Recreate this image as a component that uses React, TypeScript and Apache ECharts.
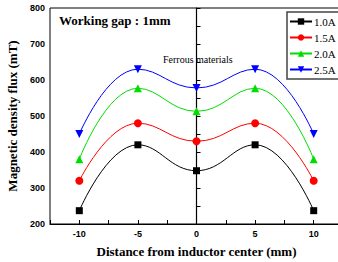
import React, { useEffect, useRef } from "react";
import * as echarts from "echarts";

const xValues = [-10, -5, 0, 5, 10];
const seriesNames = ["1.0A", "1.5A", "2.0A", "2.5A"];
const s10 = [237, 420, 348, 420, 237];
const s15 = [320, 480, 430, 480, 320];
const s20 = [380, 577, 513, 577, 380];
const s25 = [450, 630, 578, 630, 450];
const colors = ["#000000", "#ff0000", "#00dd00", "#0000ff"];
const symbols = ["rect", "circle", "triangle", "triangle"];
const rotations = [0, 0, 0, 180];

export default function App() {
  const ref = useRef<HTMLDivElement>(null);
  useEffect(() => {
    if (!ref.current) return;
    const chart = echarts.init(ref.current, null, { renderer: "svg" });
    const all = [s10, s15, s20, s25];
    const serif = "'Liberation Serif', 'Times New Roman', serif";
    const sans = "'Liberation Sans', Arial, sans-serif";
    chart.setOption({
      animation: false,
      grid: {
        left: 50,
        top: 8,
        width: 293,
        height: 216,
        show: true,
        borderColor: "#000",
        borderWidth: 1,
        containLabel: false,
        outerBoundsMode: "none",
      },
      legend: {
        orient: "vertical",
        left: 287,
        top: 12,
        itemWidth: 22,
        itemHeight: 8,
        itemGap: 5,
        padding: [4, 4, 4, 2],
        borderColor: "#444",
        borderWidth: 1.5,
        backgroundColor: "#fff",
        data: seriesNames,
        textStyle: { fontFamily: serif, fontSize: 11, color: "#000", padding: [0, 0, 0, -3] },
      },
      xAxis: {
        type: "value",
        min: -12.5,
        max: 12.5,
        interval: 2.5,
        name: "Distance from inductor center (mm)",
        nameLocation: "middle",
        nameGap: 21,
        nameTextStyle: { fontFamily: serif, fontWeight: "bold", fontSize: 13, color: "#000" },
        axisLine: { lineStyle: { color: "#000", width: 1.2 } },
        axisTick: { inside: true, length: 4, lineStyle: { color: "#000" } },
        axisLabel: {
          fontFamily: sans,
          fontWeight: "bold",
          fontSize: 9,
          color: "#000",
          margin: 5,
          formatter: (v: number) => (Math.abs(v % 5) < 1e-9 && Math.abs(v) <= 10 ? String(v) : ""),
        },
        splitLine: { show: false },
      },
      yAxis: {
        type: "value",
        min: 200,
        max: 800,
        interval: 50,
        name: "Magnetic density flux (mT)",
        nameLocation: "middle",
        nameGap: 28,
        nameTextStyle: { fontFamily: serif, fontWeight: "bold", fontSize: 13, color: "#000" },
        axisLine: { show: true, lineStyle: { color: "#000", width: 1.2 } },
        axisTick: { inside: true, length: 4, lineStyle: { color: "#000" } },
        axisLabel: {
          fontFamily: sans,
          fontWeight: "bold",
          fontSize: 9,
          color: "#000",
          margin: 5,
          formatter: (v: number) => (v % 100 === 0 ? String(v) : ""),
        },
        splitLine: { show: false },
      },
      graphic: [
        {
          type: "text",
          left: 59,
          top: 14,
          style: { text: "Working gap : 1mm", font: `bold 13px ${serif}`, fill: "#000" },
        },
        {
          type: "text",
          left: 163,
          top: 54,
          style: { text: "Ferrous materials", font: `10px ${serif}`, fill: "#000" },
        },
      ],
      series: all.map((d, i) => ({
        name: seriesNames[i],
        type: "line",
        smooth: 0.45,
        data: xValues.map((x, j) => [x, d[j]]),
        symbol: symbols[i],
        symbolRotate: rotations[i],
        symbolSize: i === 0 ? 7 : 8,
        showSymbol: true,
        itemStyle: { color: colors[i] },
        lineStyle: { color: colors[i], width: 1 },
      })),
    });
    return () => chart.dispose();
  }, []);
  return (
    <div
      ref={ref}
      style={{ position: "fixed", left: 0, top: 0, width: 338, height: 262, background: "#fff" }}
    />
  );
}
